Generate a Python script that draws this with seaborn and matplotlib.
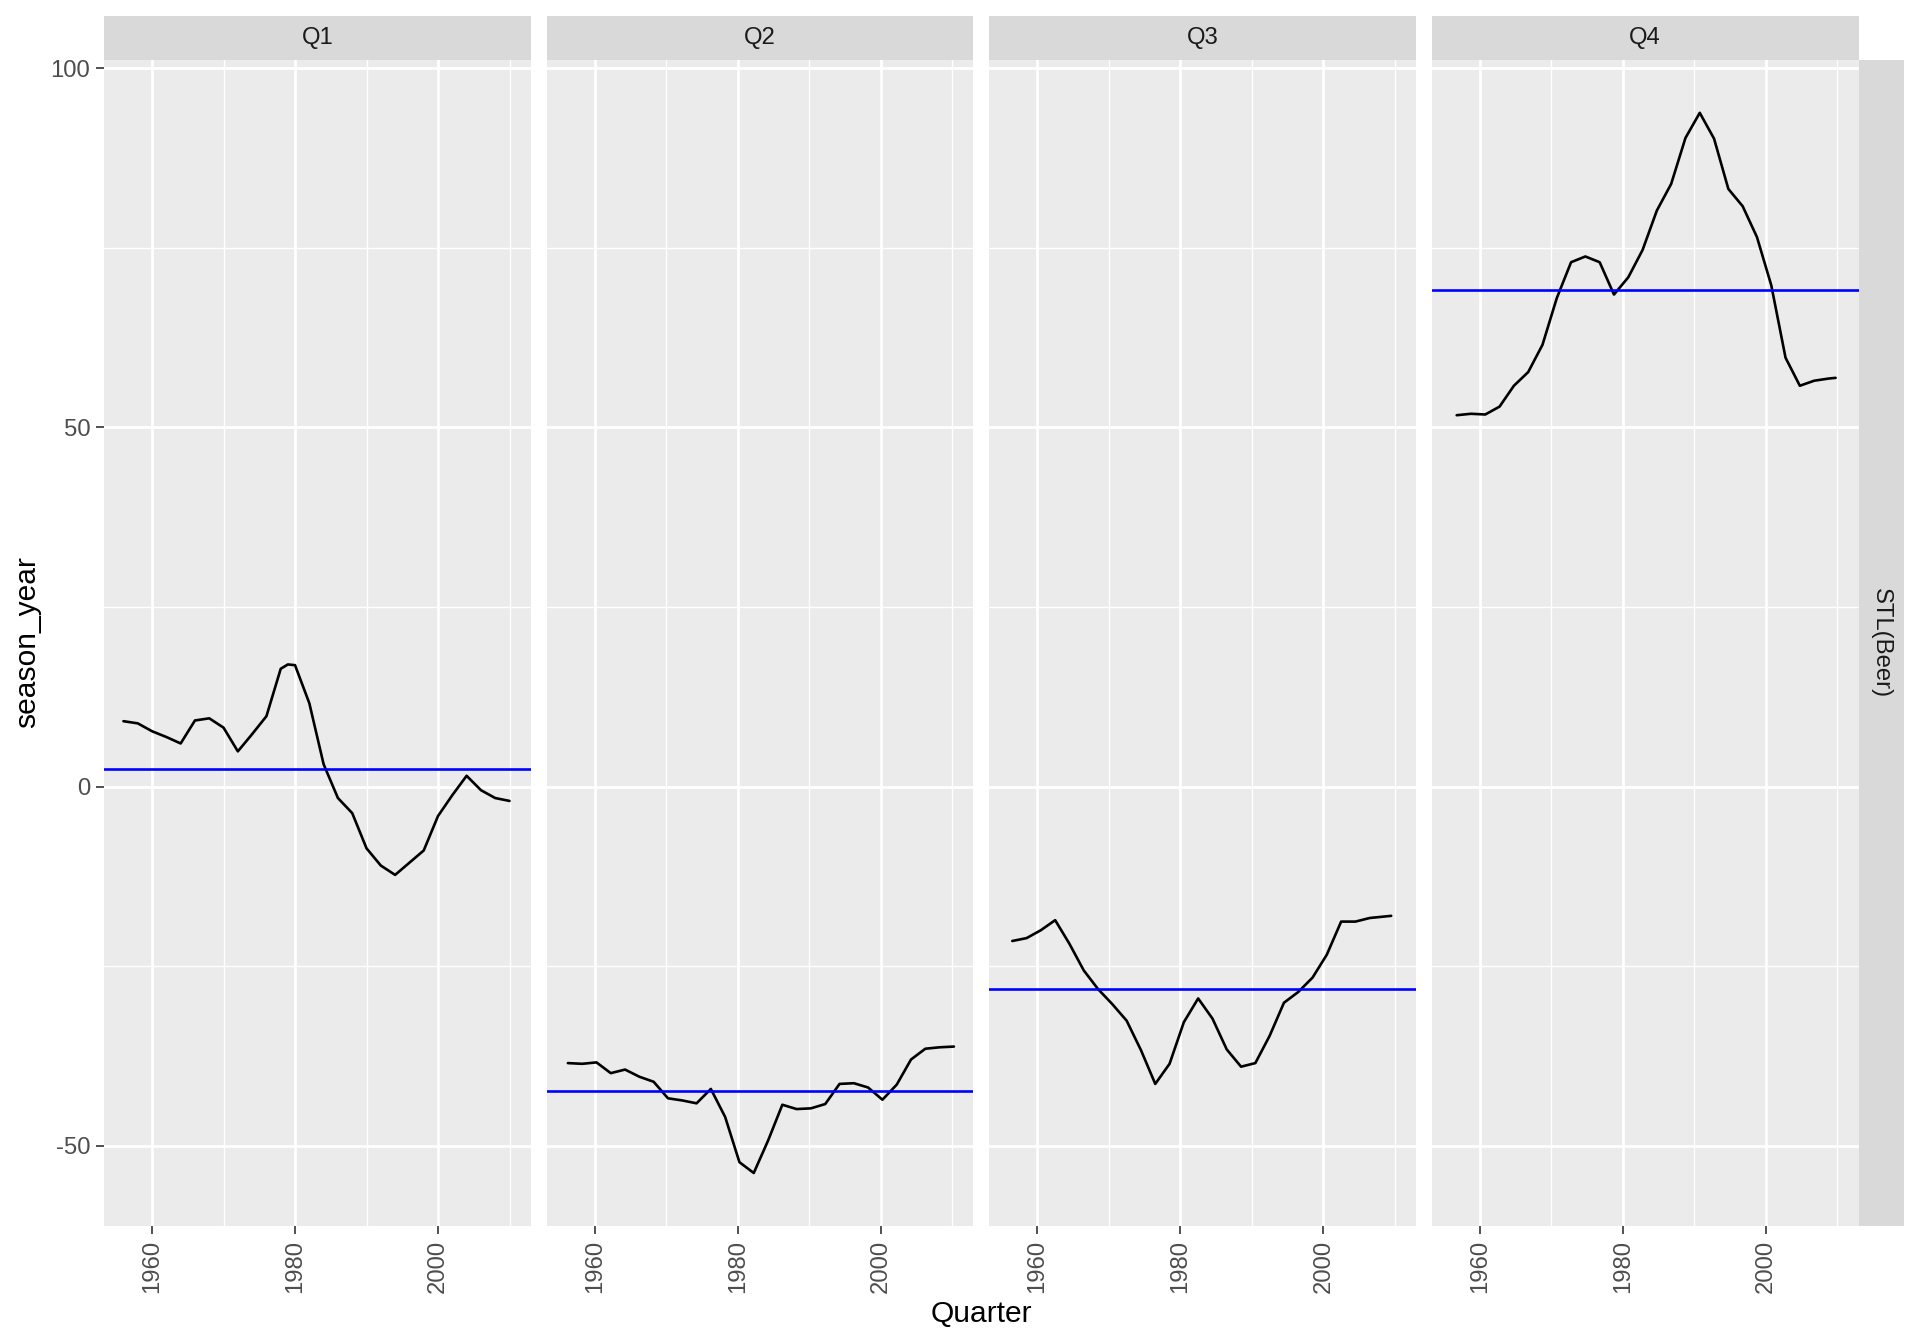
"""
Seasonal sub-series of the STL season_year component for quarterly beer production.
One facet per quarter, black line = component, blue line = mean of that quarter.
"""

import matplotlib
matplotlib.use("Agg")
import matplotlib.pyplot as plt
from matplotlib.patches import Rectangle
from matplotlib.ticker import FixedLocator
import pandas as pd
import seaborn as sns

# === 1. Data ===
quarters = ["Q1", "Q2", "Q3", "Q4"]
quarter_offset = [0.0, 0.25, 0.5, 0.75]

q1_years = [1956, 1958, 1960, 1962, 1964, 1966, 1968, 1970, 1972, 1974, 1976, 1978,
            1979, 1980, 1982, 1984, 1986, 1988, 1990, 1992, 1994, 1996, 1998, 2000,
            2002, 2004, 2006, 2008, 2010]
q1_vals = [9.1, 8.8, 7.7, 6.9, 6.0, 9.2, 9.5, 8.2, 4.9, 7.3, 9.8, 16.4,
           17.0, 16.9, 11.6, 3.1, -1.6, -3.7, -8.6, -11.0, -12.3, -10.6, -8.9, -4.1,
           -1.2, 1.5, -0.5, -1.6, -2.0]

q2_years = [1956, 1958, 1960, 1962, 1964, 1966, 1968, 1970, 1972, 1974, 1976, 1978,
            1980, 1982, 1984, 1986, 1988, 1990, 1992, 1994, 1996, 1998, 2000, 2002,
            2004, 2006, 2008, 2010]
q2_vals = [-38.5, -38.6, -38.4, -39.9, -39.4, -40.4, -41.1, -43.4, -43.7, -44.1, -42.1, -46.0,
           -52.3, -53.8, -49.3, -44.3, -44.9, -44.8, -44.2, -41.4, -41.3, -41.9, -43.6, -41.5,
           -38.0, -36.5, -36.3, -36.2]

q3_years = [1956, 1958, 1960, 1962, 1964, 1966, 1968, 1970, 1972, 1974, 1976, 1978,
            1980, 1982, 1984, 1986, 1988, 1990, 1992, 1994, 1996, 1998, 2000, 2002,
            2004, 2006, 2008, 2009]
q3_vals = [-21.5, -21.1, -20.0, -18.6, -21.9, -25.6, -28.2, -30.3, -32.6, -36.7, -41.4, -38.6,
           -32.8, -29.5, -32.3, -36.6, -39.0, -38.5, -34.7, -30.1, -28.6, -26.6, -23.4, -18.8,
           -18.8, -18.3, -18.1, -18.0]

q4_years = [1956, 1958, 1960, 1962, 1964, 1966, 1968, 1970, 1972, 1974, 1976, 1978,
            1980, 1982, 1984, 1986, 1988, 1990, 1992, 1994, 1996, 1998, 2000, 2002,
            2004, 2006, 2008, 2009]
q4_vals = [51.7, 51.9, 51.8, 52.9, 55.8, 57.7, 61.5, 68.0, 73.0, 73.8, 73.0, 68.5,
           70.9, 74.7, 80.2, 83.9, 90.3, 93.8, 90.2, 83.2, 80.8, 76.5, 69.8, 59.7,
           55.8, 56.5, 56.8, 56.9]

season_means = [2.5, -42.4, -28.2, 69.1]

# === 2. Long table ===
rows = []
for q, off, yrs, vals in zip(quarters, quarter_offset,
                             [q1_years, q2_years, q3_years, q4_years],
                             [q1_vals, q2_vals, q3_vals, q4_vals]):
    for yr, v in zip(yrs, vals):
        rows.append({"quarter": q, "Quarter": yr + off, "season_year": v})
df = pd.DataFrame(rows)

# === 3. Style (ggplot-like grey theme) ===
sns.set_theme(style="darkgrid")
plt.rcParams["font.family"] = ["Liberation Sans", "DejaVu Sans"]
plt.rcParams["axes.unicode_minus"] = False

PANEL_BG = "#EBEBEB"
STRIP_BG = "#D9D9D9"
TEXT_SIZE = 8.6

fig, axes = plt.subplots(1, 4, figsize=(9.6, 6.72), dpi=200, sharex=True, sharey=True)
fig.patch.set_facecolor("white")
fig.subplots_adjust(left=0.0542, right=0.968, bottom=0.0878, top=0.9555, wspace=0.0375)

# ggplot default 5% expansion
x_lo, x_hi = df["Quarter"].min(), df["Quarter"].max()
y_lo, y_hi = df["season_year"].min(), df["season_year"].max()
xpad = (x_hi - x_lo) * 0.05
ypad = (y_hi - y_lo) * 0.05

# strip sizes in axes fraction (panel approx 427 x 1166 px)
strip_h = 44 / 1166
strip_w = 45 / 427

for i, (ax, q) in enumerate(zip(axes, quarters)):
    sub = df[df["quarter"] == q]
    ax.set_facecolor(PANEL_BG)
    for s in ax.spines.values():
        s.set_visible(False)

    sns.lineplot(data=sub, x="Quarter", y="season_year", ax=ax, color="black",
                 linewidth=0.95, estimator=None, sort=True, zorder=3)
    ax.axhline(season_means[i], color="blue", linewidth=0.95, zorder=4)

    ax.set_xlim(x_lo - xpad, x_hi + xpad)
    ax.set_ylim(y_lo - ypad, y_hi + ypad)

    ax.xaxis.set_major_locator(FixedLocator([1960, 1980, 2000]))
    ax.xaxis.set_minor_locator(FixedLocator([1950, 1970, 1990, 2010]))
    ax.yaxis.set_major_locator(FixedLocator([-50, 0, 50, 100]))
    ax.yaxis.set_minor_locator(FixedLocator([-25, 25, 75]))
    ax.grid(which="major", color="white", linewidth=1.0)
    ax.grid(which="minor", color="white", linewidth=0.5)
    ax.set_axisbelow(True)

    ax.tick_params(axis="both", which="major", length=2.8, width=0.6, color="#333333",
                   labelcolor="#4D4D4D", labelsize=TEXT_SIZE, pad=2.2,
                   bottom=True, left=(i == 0))
    ax.tick_params(axis="both", which="minor", length=0)
    ax.tick_params(axis="x", labelrotation=90)
    ax.set_xlabel("")
    ax.set_ylabel("")

    # top facet strip
    ax.add_patch(Rectangle((0, 1), 1, strip_h, transform=ax.transAxes, clip_on=False,
                           facecolor=STRIP_BG, edgecolor="none"))
    ax.text(0.5, 1 + strip_h / 2, q, transform=ax.transAxes, ha="center", va="center",
            fontsize=TEXT_SIZE, color="#1A1A1A")

# right strip for the model facet
ax = axes[-1]
ax.add_patch(Rectangle((1, 0), strip_w, 1, transform=ax.transAxes, clip_on=False,
                       facecolor=STRIP_BG, edgecolor="none"))
ax.text(1 + strip_w / 2, 0.5, "STL(Beer)", transform=ax.transAxes, ha="center",
        va="center", rotation=-90, fontsize=TEXT_SIZE, color="#1A1A1A")

fig.text(0.511, 0.022, "Quarter", ha="center", va="center", fontsize=10.8, color="black")
fig.text(0.014, 0.522, "season_year", ha="center", va="center", rotation=90,
         fontsize=10.8, color="black")

fig.savefig("out.png", dpi=200)
plt.close(fig)
